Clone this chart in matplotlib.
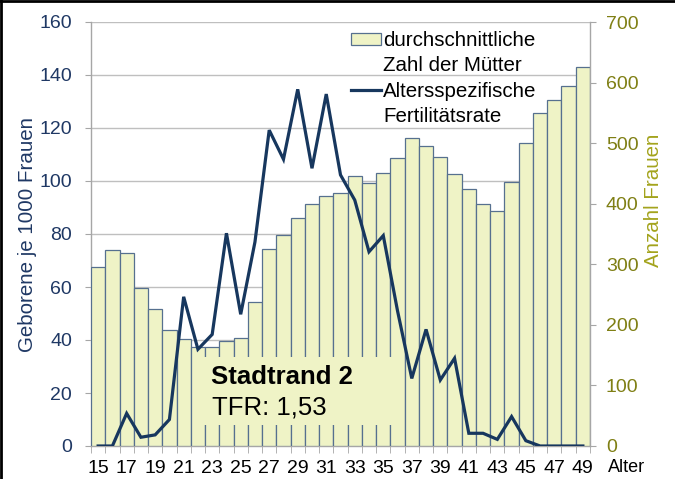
import matplotlib
matplotlib.use("Agg")
import matplotlib.pyplot as plt
from matplotlib.patches import Patch, Rectangle
from matplotlib.lines import Line2D

plt.rcParams['font.family'] = ['Liberation Sans', 'DejaVu Sans']

# ---- data ----
ages = list(range(15, 50))
mothers = [295, 323, 318, 261, 226, 191, 176, 163, 163, 173, 179, 238, 325, 349,
           377, 399, 412, 417, 445, 435, 450, 476, 508, 495, 477, 449, 425, 399,
           388, 436, 501, 550, 571, 594, 626]
asfr = [0, 0, 12.3, 3.3, 4.2, 10, 56.3, 36.5, 42.1, 80.3, 49.7, 77, 119.2, 108.2,
        134.6, 104.8, 132.8, 102.3, 92.8, 73.3, 79.4, 51, 25.5, 44, 24.9, 33.1,
        4.8, 4.8, 2.5, 11.1, 2, 0, 0, 0, 0]
x_labels = [str(a) for a in range(15, 50, 2)]
left_ticks = list(range(0, 161, 20))
right_ticks = list(range(0, 701, 100))
series_bar = "durchschnittliche"
series_bar2 = "Zahl der Mütter"
series_line = "Altersspezifische"
series_line2 = "Fertilitätsrate"
box_title = "Stadtrand 2"
box_value = "TFR: 1,53"

# ---- style ----
BAR_FC = '#EFF3C6'
BAR_EC = '#56708F'
LINE_C = '#17375E'
NAVY = '#1F3864'
OLIVE_T = '#7F7F14'
OLIVE_L = '#A3A31C'
GRID = '#BFBFBF'
SPINE = '#A6A6A6'

fig = plt.figure(figsize=(6.75, 4.79), dpi=100)
ax = fig.add_axes([91/675, 1-446/479, 499/675, 424/479])
ax.set_zorder(0)
ax.set_xlim(14.5, 49.5)
ax.set_ylim(0, 160)
ax.set_yticks(left_ticks)
ax.yaxis.grid(True, color=GRID, lw=1.0)
ax.set_axisbelow(True)
for s in ['top', 'right']:
    ax.spines[s].set_visible(False)
for s in ['left', 'bottom']:
    ax.spines[s].set_color(SPINE)
    ax.spines[s].set_linewidth(1.0)
ax.tick_params(axis='y', colors=SPINE, labelcolor=NAVY, labelsize=14,
               length=4.5, pad=9)
ax.set_xticks(list(range(15, 50, 2)))
ax.set_xticklabels(x_labels)
ax.set_xticks([a - 0.5 for a in range(15, 51)], minor=True)
ax.tick_params(axis='x', which='major', length=0, pad=10, labelsize=14,
               labelcolor='black')
ax.tick_params(axis='x', which='minor', length=5, color=SPINE)
for lab in ax.get_xticklabels():
    lab.set_family(['Liberation Sans Narrow', 'Liberation Sans'])
ax.set_ylabel('Geborene je 1000 Frauen', color=NAVY, fontsize=14.8,
              va='center', ha='center')
ax.yaxis.set_label_coords((28-91)/499, (446-234.5)/424)

# bars on right axis
ax2 = ax.twinx()
ax2.set_zorder(1)
ax2.patch.set_visible(False)
ax2.bar(ages, mothers, width=1.0, color=BAR_FC, edgecolor=BAR_EC, linewidth=0.9)
ax2.set_ylim(0, 700)
ax2.set_yticks(right_ticks)
for s in ['top', 'left', 'bottom']:
    ax2.spines[s].set_visible(False)
ax2.spines['right'].set_color(SPINE)
ax2.spines['right'].set_linewidth(1.0)
ax2.tick_params(axis='y', colors=SPINE, labelcolor=OLIVE_T, labelsize=14,
                length=4.5, pad=7)
ax2.set_ylabel('Anzahl Frauen', color=OLIVE_L, fontsize=14.8,
               va='center', ha='center', rotation=90)
ax2.yaxis.set_label_coords((653.5-91)/499, (446-200)/424)

# line on left scale
ax3 = ax.twinx()
ax3.set_zorder(2)
ax3.patch.set_visible(False)
ax3.set_ylim(0, 160)
ax3.axis('off')
ax3.plot(ages, asfr, color=LINE_C, lw=2.3, zorder=3, solid_joinstyle='miter')

# text box
ax3.add_patch(Rectangle(((195-91)/499, (446-425)/424), 200/499, 68/424,
                        transform=ax3.transAxes, facecolor=BAR_FC,
                        edgecolor='none', zorder=1))
ax3.text((211-91)/499, (446-383.5)/424, box_title, transform=ax3.transAxes,
         fontsize=18.5, fontweight='bold', va='baseline', ha='left', zorder=2)
ax3.text((212-91)/499, (446-414)/424, box_value, transform=ax3.transAxes,
         fontsize=18.5, va='baseline', ha='left', zorder=2)

# legend
blank = Patch(facecolor='none', edgecolor='none')
handles = [Patch(facecolor=BAR_FC, edgecolor=BAR_EC, linewidth=0.9), blank,
           Line2D([], [], color=LINE_C, lw=2.3), blank]
labels = [series_bar, series_bar2, series_line, series_line2]
leg = ax3.legend(handles, labels, loc='upper left',
                 bbox_to_anchor=((351-91)/499, 0.978), frameon=False,
                 fontsize=14.8, handlelength=1.46, handleheight=0.52,
                 handletextpad=0.1, labelspacing=0.3, borderpad=0,
                 borderaxespad=0)

fig.text(627/675, 1-468/479, 'Alter', fontsize=13, ha='center', va='center')

# figure border (top and left)
fig.add_artist(Line2D([0, 1], [1-1.2/479, 1-1.2/479], transform=fig.transFigure,
                      color='black', lw=2))
fig.add_artist(Line2D([1.2/675, 1.2/675], [0, 1], transform=fig.transFigure,
                      color='black', lw=2))

fig.savefig('out.png', dpi=100)
